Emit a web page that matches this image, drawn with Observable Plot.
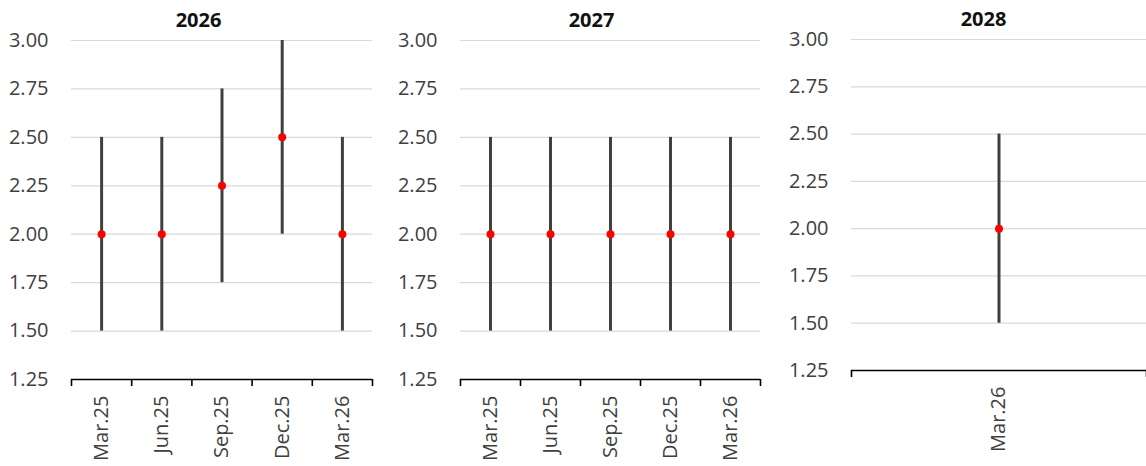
<!DOCTYPE html>
<html>
<head>
<meta charset="utf-8">
<script src="https://cdn.jsdelivr.net/npm/d3@7"></script>
<script src="https://cdn.jsdelivr.net/npm/@observablehq/plot@0.6"></script>
<style>
  body { margin: 0; background: #fff; }
  #wrap { position: relative; width: 1146px; height: 466px; overflow: hidden; }
  #wrap svg { position: absolute; top: 0; overflow: visible; }
</style>
</head>
<body>
<div id="wrap"></div>
<script>
const yTicks = [1.25, 1.5, 1.75, 2.0, 2.25, 2.5, 2.75, 3.0];

const titles = ["2026", "2027", "2028"];

const categories2026 = ["Mar.25", "Jun.25", "Sep.25", "Dec.25", "Mar.26"];
const low2026  = [1.5, 1.5, 1.75, 2.0, 1.5];
const mid2026  = [2.0, 2.0, 2.25, 2.5, 2.0];
const high2026 = [2.5, 2.5, 2.75, 3.0, 2.5];

const categories2027 = ["Mar.25", "Jun.25", "Sep.25", "Dec.25", "Mar.26"];
const low2027  = [1.5, 1.5, 1.5, 1.5, 1.5];
const mid2027  = [2.0, 2.0, 2.0, 2.0, 2.0];
const high2027 = [2.5, 2.5, 2.5, 2.5, 2.5];

const categories2028 = ["Mar.26"];
const low2028  = [1.5];
const mid2028  = [2.0];
const high2028 = [2.5];

const panels = [
  {title: titles[0], cats: categories2026, lo: low2026, mid: mid2026, hi: high2026,
   left: 0, width: 380, marginLeft: 71, marginRight: 8, marginTop: 40, marginBottom: 87, titleDx: -23.5},
  {title: titles[1], cats: categories2027, lo: low2027, mid: mid2027, hi: high2027,
   left: 389, width: 380, marginLeft: 71, marginRight: 9, marginTop: 40, marginBottom: 87, titleDx: -19},
  {title: titles[2], cats: categories2028, lo: low2028, mid: mid2028, hi: high2028,
   left: 780, width: 366, marginLeft: 71, marginRight: 0, marginTop: 39, marginBottom: 96, titleDx: -15.5}
];

const wrap = document.getElementById("wrap");

for (const p of panels) {
  const n = p.cats.length;
  const rows = p.cats.map((c, i) => ({pos: i + 0.5, cat: c, lo: p.lo[i], mid: p.mid[i], hi: p.hi[i]}));
  const chart = Plot.plot({
    width: p.width,
    height: 466,
    marginLeft: p.marginLeft,
    marginRight: p.marginRight,
    marginTop: p.marginTop,
    marginBottom: p.marginBottom,
    style: {fontFamily: "'Open Sans', sans-serif", fontSize: "20px", color: "#404040", background: "transparent"},
    x: {type: "linear", domain: [0, n], axis: null},
    y: {type: "linear", domain: [1.25, 3.0], axis: null},
    marks: [
      Plot.gridY(yTicks.slice(1), {stroke: "#d9d9d9", strokeOpacity: 1, strokeWidth: 1.2}),
      Plot.axisY({ticks: yTicks, tickSize: 0, tickPadding: 23, tickFormat: d3.format(".2f"), label: null, fontSize: 20}),
      Plot.ruleY([1.25], {stroke: "#000", strokeWidth: 1.6}),
      Plot.axisX({ticks: d3.range(n + 1), tickSize: 7, tickFormat: () => "", stroke: "#000", strokeWidth: 1.6, label: null}),
      Plot.axisX({ticks: rows.map(d => d.pos), tickSize: 0, tickPadding: 16, tickRotate: -90,
                  tickFormat: v => p.cats[Math.floor(v)], label: null, fontSize: 20}),
      Plot.ruleX(rows, {x: "pos", y1: "lo", y2: "hi", stroke: "#404040", strokeWidth: 3}),
      Plot.dot(rows, {x: "pos", y: "mid", r: 4, fill: "#ff0000", stroke: "none"}),
      Plot.text([p.title], {frameAnchor: "top", dx: p.titleDx, dy: -20, fontWeight: "bold", fontSize: 20, fill: "#111", lineAnchor: "middle"})
    ]
  });
  chart.style.left = p.left + "px";
  wrap.appendChild(chart);
}
</script>
</body>
</html>
